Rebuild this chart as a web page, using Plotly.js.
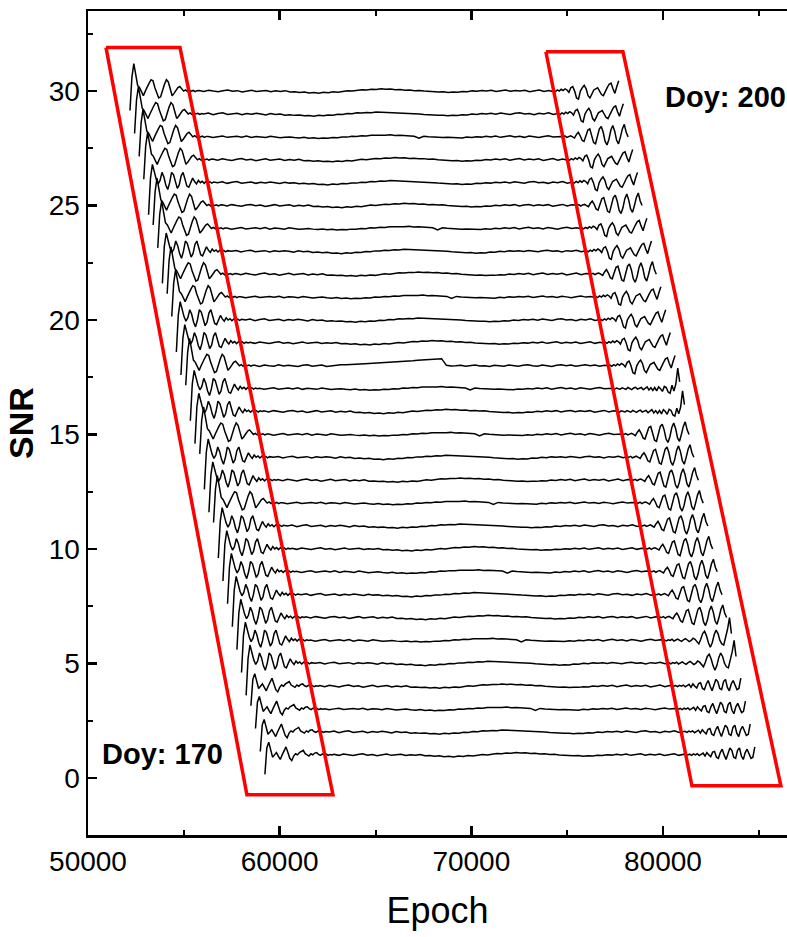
<!DOCTYPE html>
<html>
<head>
<meta charset="utf-8">
<script src="https://cdn.plot.ly/plotly-3.0.1.min.js"></script>
<style>html,body{margin:0;padding:0;background:#fff;}#chart{width:787px;height:937px;}</style>
</head>
<body>
<div id="chart"></div>
<script>
// ---- data ----
// one trace per day, bottom (Doy 170) to top (Doy 200)
const baselineSNR = [1,2,3,4,5,6,7,8,9,10,11,12,13,14,15,16,17,18,19,20,21,22,23,24,25,26,27,28,29,30];
const startEpoch = [59230,58990,58740,58500,58250,58010,57770,57530,57280,57040,56800,56550,56310,56070,55830,
                    55580,55340,55100,54850,54610,54370,54130,53880,53640,53400,53160,52910,52670,52430,52190];
const endEpoch   = [84790,84550,84300,84060,83810,83570,83320,83080,82830,82590,82340,82100,81850,81610,81360,
                    81120,80870,80630,80380,80140,79890,79650,79400,79160,78910,78670,78420,78180,77930,77690];

// SNR deviations at the start of a track (100 s steps)
const headTop   = [-0.85,0.6,1.2,0.7,0.25,0.15,-0.05,-0.2,0.0,0.2,0.35,0.5,0.45,0.15,-0.1,-0.3,-0.25,0.05,0.3,0.5,0.4,0.1,-0.2,-0.1,0.05,0.15,0.2,0.1,0.0,0.05,-0.02,0.04,0.0,0.03,-0.02,0.02];
const headSpike = [-1.4,0.2,0.8,0.45,0.15,-0.05,0.1,0.45,0.25,-0.1,-0.3,0.0,0.45,0.35,0.0,-0.25,-0.1,0.3,0.45,0.15,-0.15,-0.2,0.05,0.2,0.05,-0.05,0.1,0.0,0.06,-0.03,0.05,0.0,0.04,-0.02,0.03,0.0];
const headLow   = [-0.85,0.3,0.55,0.2,-0.1,0.0,0.1,-0.05,-0.2,0.0,0.2,0.35,0.1,-0.15,-0.25,-0.05,0.05,0.0,0.1,0.15,0.2,0.05,0.0,-0.05,0.05,0.0,0.08,0.1,0.02,-0.02,0.04,0.0,0.03,-0.02,0.02,0.0];
// SNR deviations in the middle of a track (250 s steps)
const midA = [0.03,-0.02,0.04,0.0,-0.03,0.02,0.05,-0.01,0.02,-0.04,
              0.01,0.04,-0.02,0.0,0.03,-0.03,0.01,-0.02,0.02,-0.04,
              -0.03,-0.06,-0.04,-0.08,-0.06,-0.09,-0.05,-0.07,-0.03,-0.05,
              -0.01,0.02,0.0,0.04,0.06,0.05,0.08,0.07,0.1,0.08,
              0.09,0.06,0.07,0.04,0.05,0.02,0.03,0.0,-0.02,-0.01,
              -0.04,-0.03,-0.06,-0.04,-0.05,-0.02,-0.03,0.01,-0.01,0.03,
              0.0,0.04,-0.02,0.02,0.05,-0.01,0.03,0.0,0.04,-0.03,
              0.02,0.05,-0.02,0.03,0.0,0.04];
const midB = [0.0,0.04,-0.03,0.02,0.05,-0.02,0.01,0.03,-0.03,0.02,
              -0.01,0.03,0.0,-0.04,0.02,-0.02,0.0,-0.05,-0.03,-0.06,
              -0.04,-0.08,-0.07,-0.1,-0.06,-0.08,-0.04,-0.05,-0.01,-0.02,
              0.02,0.01,0.05,0.04,0.07,0.06,0.09,0.08,0.1,0.07,
              0.08,0.05,0.06,0.02,0.03,0.0,-0.02,-0.04,-0.03,-0.06,
              -0.05,-0.08,-0.06,-0.07,-0.03,-0.04,0.0,-0.02,0.02,0.0,
              0.03,-0.01,0.04,0.01,-0.02,0.03,0.05,0.0,0.02,-0.03,
              0.03,0.0,0.05,-0.02,0.02,0.04];
const midC = [0.02,-0.03,0.01,0.04,-0.02,0.0,0.03,-0.01,0.04,-0.03,
              0.02,0.0,-0.03,0.03,-0.01,-0.04,-0.02,0.0,-0.03,-0.05,
              -0.02,-0.06,-0.04,-0.07,-0.05,-0.06,-0.03,-0.04,0.0,-0.01,
              0.03,0.02,0.05,0.04,0.07,0.06,0.08,0.07,0.09,0.06,
              0.07,0.05,0.06,0.03,-0.06,0.03,0.01,-0.01,0.0,-0.03,
              -0.02,-0.04,-0.03,-0.05,-0.01,-0.03,0.01,-0.01,0.03,0.0,
              0.04,-0.02,0.02,0.05,0.0,0.03,-0.02,0.04,0.01,-0.03,
              0.02,0.05,0.0,0.03,-0.01,0.04];
const midBump = [0.02,-0.03,0.03,0.0,-0.02,0.04,-0.01,0.02,0.0,-0.03,
                 0.02,0.04,-0.02,0.01,0.03,-0.03,0.0,0.02,0.04,0.05,
                 0.05,0.07,0.08,0.09,0.1,0.12,0.13,0.14,0.15,0.17,
                 0.18,0.19,0.21,0.22,0.24,0.25,0.27,0.28,0.3,0.31,
                 0.02,-0.01,0.0,0.02,-0.02,0.01,0.03,-0.01,0.0,-0.03,
                 0.02,0.0,-0.02,0.03,0.01,-0.02,0.02,0.04,0.0,-0.02,
                 0.03,0.01,-0.03,0.02,0.04,0.0,0.03,-0.02,0.01,0.04,
                 0.0,0.03,-0.02,0.02,0.04,0.0];
// SNR deviations at the end of a track (100 s steps)
const tailTop   = [0.0,0.03,-0.02,0.05,0.0,0.08,0.02,0.1,0.05,-0.05,0.15,0.2,0.0,-0.3,-0.35,0.0,0.15,0.25,0.1,-0.2,-0.3,-0.15,0.05,0.1,0.15,0.0,-0.15,-0.2,0.0,0.15,0.3,0.35,0.1,-0.1,0.2,0.45];
const tailBig   = [0.02,-0.02,0.03,0.0,0.05,-0.03,0.02,0.06,0.0,-0.04,0.03,0.08,0.02,-0.05,0.0,0.1,0.05,-0.08,-0.15,0.05,0.3,0.4,0.2,-0.1,-0.3,-0.1,0.25,0.45,0.3,0.0,-0.15,-0.2,0.1,0.5,1.0,0.3];
const tailLow   = [0.0,0.03,-0.02,0.04,0.0,0.05,-0.03,0.02,0.08,-0.05,0.1,0.0,-0.08,0.12,0.15,-0.1,-0.15,0.1,0.25,0.0,-0.2,0.05,0.3,0.2,-0.1,-0.15,0.2,0.3,-0.05,-0.2,0.1,0.25,0.0,-0.15,-0.1,0.35];
const tailOsc   = [0.02,0.0,0.04,-0.02,0.03,0.05,0.0,-0.05,0.1,0.2,0.05,-0.15,-0.2,0.1,0.3,0.35,0.05,-0.25,-0.3,0.05,0.35,0.45,0.2,-0.2,-0.35,-0.1,0.3,0.5,0.25,-0.15,-0.3,0.0,0.35,0.55,0.2,0.0];
const tailSpike = [0.02,-0.03,0.03,0.0,-0.02,0.04,0.0,-0.03,0.05,0.02,-0.04,0.03,0.06,-0.02,0.0,0.05,-0.05,0.02,0.08,-0.06,0.04,-0.08,0.05,-0.1,0.08,0.0,-0.12,0.1,0.05,-0.15,-0.2,0.15,-0.1,0.2,0.9,0.3];

const headOfTrace = ['low','low','low','low','spike','spike','spike','spike','spike','spike','spike','top','spike','spike','top',
                     'spike','spike','top','spike','spike','top','top','spike','top','top','spike','top','top','top','top'];
const midOfTrace  = ['A','B','C','A','B','C','A','B','C','A','B','C','A','B','C','A','C','bump','A','B','C','A','B','C','A','B','A','C','B','A'];
const tailOfTrace = ['low','low','low','low','big','big','osc','osc','osc','osc','osc','osc','osc','osc','osc',
                     'spike','spike','top','top','top','top','osc','top','top','osc','top','top','osc','top','top'];

// highlighted regions (red parallelograms)
const boxLeftX  = [50940, 54800, 62780, 58290, 50940];
const boxLeftY  = [31.9, 31.9, -0.74, -0.74, 31.9];
const boxRightX = [73890, 77910, 86150, 81510, 73890];
const boxRightY = [31.72, 31.72, -0.35, -0.35, 31.72];
const labelText = ['Doy: 170', 'Doy: 200'];
const labelX = [50640, 80000];
const labelY = [1.05, 29.75];

// ---- build figure ----
const heads = {top: headTop, spike: headSpike, low: headLow};
const mids = {A: midA, B: midB, C: midC, bump: midBump};
const tails = {top: tailTop, big: tailBig, low: tailLow, osc: tailOsc, spike: tailSpike};
const HEAD_STEP = 100, MID_STEP = 250, TAIL_STEP = 100;

const traces = [];
for (let i = 0; i < baselineSNR.length; i++) {
  const h = heads[headOfTrace[i]], m = mids[midOfTrace[i]], t = tails[tailOfTrace[i]];
  const b = baselineSNR[i];
  const xs = [], ys = [];
  h.forEach((v, k) => { xs.push(startEpoch[i] + k * HEAD_STEP); ys.push(b + v); });
  const midStart = startEpoch[i] + h.length * HEAD_STEP;
  const tailStart = endEpoch[i] - (t.length - 1) * TAIL_STEP;
  for (let k = 0; k < m.length; k++) {
    const e = midStart + k * MID_STEP;
    if (e >= tailStart - 100) break;
    xs.push(e); ys.push(b + m[k]);
  }
  t.forEach((v, k) => { xs.push(tailStart + k * TAIL_STEP); ys.push(b + v); });
  traces.push({x: xs, y: ys, type: 'scatter', mode: 'lines',
               line: {color: '#000', width: 1.5}, hoverinfo: 'skip', showlegend: false});
}
[[boxLeftX, boxLeftY], [boxRightX, boxRightY]].forEach(([bx, by]) => {
  traces.push({x: bx, y: by, type: 'scatter', mode: 'lines',
               line: {color: '#ff0000', width: 3.5}, hoverinfo: 'skip', showlegend: false});
});

const FONT = 'Liberation Sans, Arial, sans-serif';
const layout = {
  width: 787, height: 937,
  margin: {l: 88, r: 0, t: 11, b: 102},
  paper_bgcolor: '#fff', plot_bgcolor: '#fff',
  showlegend: false,
  font: {family: FONT, color: '#000'},
  xaxis: {
    range: [50000, 86470], dtick: 10000, tick0: 50000,
    showgrid: false, zeroline: false,
    showline: true, linewidth: 2.5, linecolor: '#000', mirror: 'ticks',
    ticks: 'inside', ticklen: 9, tickwidth: 2.5, tickcolor: '#000',
    minor: {dtick: 5000, ticks: 'inside', ticklen: 5, tickwidth: 2, tickcolor: '#000', showgrid: false},
    tickfont: {size: 28, family: FONT},
    exponentformat: 'none', tickformat: 'd',
    automargin: false,
    title: {text: 'Epoch', font: {size: 36, family: FONT}, standoff: 22}
  },
  yaxis: {
    range: [-2.5, 33.5], dtick: 5, tick0: 0,
    showgrid: false, zeroline: false,
    showline: true, linewidth: 2.5, linecolor: '#000', mirror: false,
    ticks: 'inside', ticklen: 9, tickwidth: 2.5, tickcolor: '#000',
    minor: {dtick: 2.5, ticks: 'inside', ticklen: 5, tickwidth: 2, tickcolor: '#000', showgrid: false},
    tickfont: {size: 28, family: FONT},
    automargin: false,
    title: {text: '<b>SNR</b>', font: {size: 34, family: FONT}, standoff: 5}
  },
  annotations: labelText.map((s, k) => ({
    text: '<b>' + s + '</b>', x: labelX[k], y: labelY[k], xref: 'x', yref: 'y',
    xanchor: 'left', yanchor: 'middle', showarrow: false,
    font: {size: 29, family: FONT, color: '#000'}
  }))
};

Plotly.newPlot('chart', traces, layout, {staticPlot: true, displayModeBar: false});
</script>
</body>
</html>
